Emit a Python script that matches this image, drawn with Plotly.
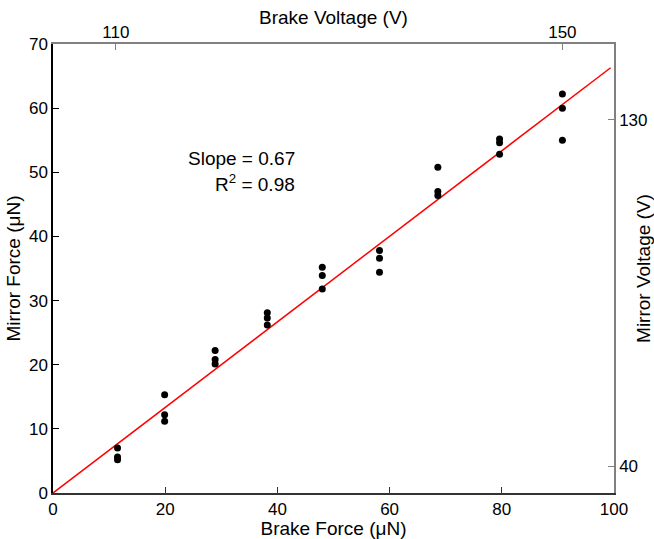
import plotly.graph_objects as go

# Data
brake_force = [11.5]*3 + [19.9]*3 + [28.9]*3 + [38.2]*3 + [48.0]*3 + [58.2]*3 + [68.6]*3 + [79.6]*3 + [90.8]*3
mirror_force = [7.0, 5.6, 5.2,
                15.3, 12.2, 11.2,
                22.2, 20.8, 20.1,
                28.1, 27.3, 26.2,
                35.2, 33.9, 31.8,
                37.8, 36.6, 34.4,
                50.8, 47.0, 46.4,
                55.2, 54.6, 52.8,
                62.2, 60.0, 55.0]
slope = 0.667
fit_x = [0, 99.4]
fit_y = [slope * v for v in fit_x]

top_tick_pos = [11.2, 90.8]
top_tick_text = ["110", "150"]
right_tick_pos = [4.16, 58.2]
right_tick_text = ["40", "130"]

FAM = "Liberation Sans, Arial, sans-serif"
tick_font = dict(family=FAM, size=17, color="black")
title_font = dict(family=FAM, size=19, color="black")
ann_font = dict(family=FAM, size=19, color="black")

fig = go.Figure()
fig.add_trace(go.Scatter(x=fit_x, y=fit_y, mode="lines",
                         line=dict(color="red", width=1.5), showlegend=False, hoverinfo="skip"))
fig.add_trace(go.Scatter(x=brake_force, y=mirror_force, mode="markers",
                         marker=dict(color="black", size=7), showlegend=False))
fig.add_trace(go.Scatter(x=[None], y=[None], xaxis="x2", yaxis="y2",
                         showlegend=False, hoverinfo="skip"))

fig.update_layout(
    width=654, height=539,
    margin=dict(l=53, r=40, t=44, b=46),
    plot_bgcolor="white", paper_bgcolor="white",
    font=tick_font,
    xaxis=dict(range=[0, 100], tickvals=[0, 20, 40, 60, 80, 100], automargin=False,
               ticks="inside", ticklen=6, tickcolor="#333", linecolor="#333", linewidth=1.5,
               showline=True, showgrid=False, zeroline=False, mirror=False,
               title=dict(text="Brake Force (\u03bcN)", standoff=1, font=title_font), tickfont=tick_font),
    yaxis=dict(range=[0, 70], tickvals=[0, 10, 20, 30, 40, 50, 60, 70], automargin=False,
               ticks="inside", ticklen=6, tickcolor="black", linecolor="black", linewidth=1.5,
               showline=True, showgrid=False, zeroline=False,
               title=dict(text="Mirror Force (\u03bcN)", standoff=3, font=title_font), tickfont=tick_font),
    xaxis2=dict(range=[0, 100], overlaying="x", side="top", anchor="y", automargin=False,
                tickvals=top_tick_pos, ticktext=top_tick_text, ticklabelstandoff=-3,
                ticks="inside", ticklen=6, tickcolor="#808080", linecolor="#808080", linewidth=1.5,
                showline=True, showgrid=False, zeroline=False, tickfont=tick_font),
    yaxis2=dict(range=[0, 70], overlaying="y", side="right", anchor="x", automargin=False,
                tickvals=right_tick_pos, ticktext=right_tick_text,
                ticks="inside", ticklen=6, tickcolor="#808080", linecolor="#808080", linewidth=1.5,
                showline=True, showgrid=False, zeroline=False,
                title=dict(text="Mirror Voltage (V)", standoff=3, font=title_font), tickfont=tick_font),
    annotations=[
        dict(x=0.5, y=1.058, xref="paper", yref="paper", xanchor="center", yanchor="middle",
             text="Brake Voltage (V)", showarrow=False, font=title_font),
        dict(x=0.435, y=0.745, xref="paper", yref="paper", xanchor="right", yanchor="middle",
             text="Slope = 0.67", showarrow=False, font=ann_font),
        dict(x=0.435, y=0.69, xref="paper", yref="paper", xanchor="right", yanchor="middle",
             text="R<sup>2</sup> = 0.98", showarrow=False, font=ann_font),
    ],
)

fig.write_html("out.html")
